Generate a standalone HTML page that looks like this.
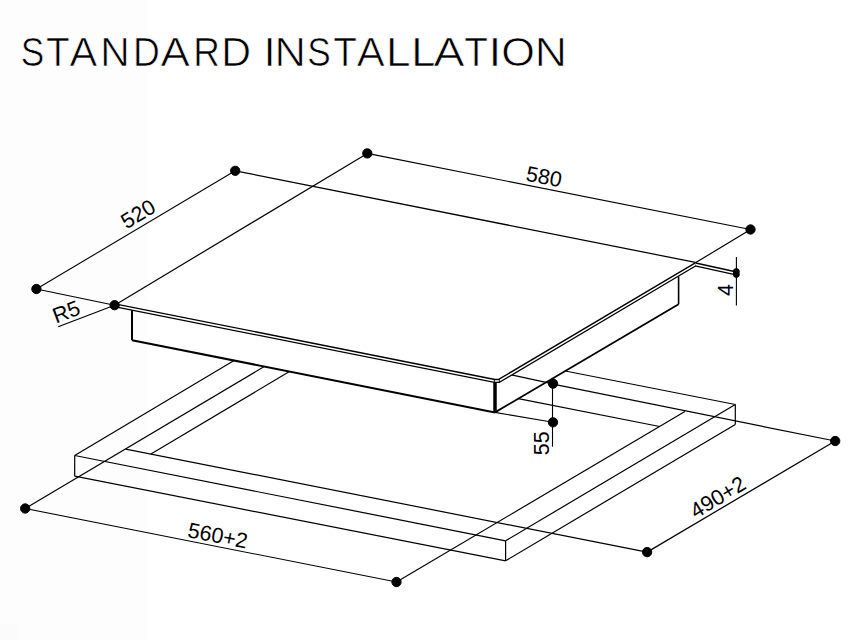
<!DOCTYPE html>
<html><head><meta charset="utf-8"><style>
html,body{margin:0;padding:0;background:#fff;width:863px;height:640px;overflow:hidden}
svg{position:absolute;left:0;top:0}
text{font-family:"Liberation Sans",sans-serif;fill:#000}
</style></head><body>
<svg width="863" height="640" viewBox="0 0 863 640" stroke="#000" fill="#000">
<rect x="0" y="0" width="147" height="640" fill="#fdfdfd" stroke="none"/><rect x="0" y="624" width="17" height="16" fill="#fbfbfb" stroke="none"/>
<g stroke-linecap="butt">
<line x1="114.60" y1="305.20" x2="367.30" y2="153.40" stroke-width="1.2"/>
<line x1="367.30" y1="153.40" x2="750.50" y2="229.50" stroke-width="1.1"/>
<line x1="132.00" y1="309.50" x2="132.00" y2="340.20" stroke-width="2.0"/>
<line x1="132.00" y1="340.20" x2="495.00" y2="412.40" stroke-width="2.0"/>
<line x1="495.00" y1="412.40" x2="678.60" y2="304.20" stroke-width="1.8"/>
<line x1="678.60" y1="276.30" x2="678.60" y2="304.20" stroke-width="1.6"/>
<line x1="495.00" y1="382.50" x2="495.00" y2="412.40" stroke-width="3.5"/>
<line x1="74.70" y1="455.50" x2="234.09" y2="360.51" stroke-width="1.2"/>
<line x1="74.70" y1="455.50" x2="505.60" y2="540.80" stroke-width="1.2"/>
<line x1="74.70" y1="476.20" x2="505.60" y2="560.80" stroke-width="1.2"/>
<line x1="74.70" y1="455.50" x2="74.70" y2="476.20" stroke-width="1.2"/>
<line x1="505.60" y1="540.80" x2="505.60" y2="560.80" stroke-width="1.2"/>
<line x1="505.60" y1="540.80" x2="735.30" y2="404.50" stroke-width="1.2"/>
<line x1="505.60" y1="560.80" x2="735.30" y2="424.50" stroke-width="1.2"/>
<line x1="735.30" y1="404.50" x2="735.30" y2="424.50" stroke-width="1.2"/>
<line x1="735.30" y1="404.50" x2="565.25" y2="371.00" stroke-width="1.2"/>
<line x1="25.20" y1="508.50" x2="264.28" y2="366.51" stroke-width="1.2"/>
<line x1="125.70" y1="449.10" x2="647.10" y2="552.10" stroke-width="1.2"/>
<line x1="396.50" y1="582.00" x2="684.90" y2="411.50" stroke-width="1.2"/>
<line x1="510.30" y1="374.70" x2="553.00" y2="383.90" stroke-width="1.2"/>
<line x1="553.00" y1="384.20" x2="835.20" y2="441.00" stroke-width="1.2"/>
<line x1="150.92" y1="454.07" x2="289.44" y2="371.51" stroke-width="1.2"/>
<line x1="659.68" y1="426.53" x2="518.29" y2="398.68" stroke-width="1.2"/>
<line x1="36.40" y1="289.00" x2="235.20" y2="170.80" stroke-width="1.1"/>
<line x1="36.40" y1="289.00" x2="114.60" y2="305.20" stroke-width="1.1"/>
<line x1="235.20" y1="170.80" x2="695.40" y2="262.40" stroke-width="1.25"/>
<line x1="750.50" y1="229.50" x2="695.00" y2="263.10" stroke-width="1.2"/>
<path d="M114.60,305.20 L494.6,380.9 L498.9,380.9 L695.6,264.3" fill="none" stroke="#000" stroke-width="4.2" stroke-linejoin="miter"/>
<path d="M114.60,305.20 L494.6,380.9 L498.9,380.9 L695.6,264.3" fill="none" stroke="#fff" stroke-width="1.5" stroke-linejoin="miter"/>
<line x1="494.30" y1="378.90" x2="494.30" y2="382.90" stroke-width="0.9"/>
<line x1="499.30" y1="378.90" x2="499.30" y2="382.90" stroke-width="0.9"/>
<line x1="695.40" y1="264.40" x2="736.30" y2="273.40" stroke-width="4.2" stroke="#000"/><line x1="695.40" y1="264.40" x2="736.30" y2="273.40" stroke-width="1.5" stroke="#fff"/>
<line x1="58.20" y1="326.70" x2="114.60" y2="305.20" stroke-width="1.1"/>
<line x1="736.40" y1="257.00" x2="736.40" y2="305.60" stroke-width="1.1"/>
<line x1="552.50" y1="383.60" x2="552.50" y2="446.70" stroke-width="1.1"/>
<line x1="495.00" y1="412.40" x2="553.00" y2="422.30" stroke-width="1.1"/>
<line x1="25.20" y1="508.50" x2="396.50" y2="582.00" stroke-width="1.1"/>
<line x1="835.20" y1="441.00" x2="647.10" y2="552.10" stroke-width="1.25"/>
<circle cx="36.40" cy="289.00" r="4.65"/>
<circle cx="235.20" cy="170.80" r="4.65"/>
<circle cx="114.60" cy="305.20" r="4.65"/>
<circle cx="367.30" cy="153.40" r="4.65"/>
<circle cx="750.50" cy="229.50" r="4.65"/>
<circle cx="553.00" cy="383.60" r="4.65"/>
<circle cx="553.00" cy="422.30" r="4.65"/>
<circle cx="25.20" cy="508.50" r="4.65"/>
<circle cx="396.50" cy="582.00" r="4.65"/>
<circle cx="835.20" cy="441.00" r="4.65"/>
<circle cx="647.10" cy="552.10" r="4.65"/>
<circle cx="736.30" cy="271.60" r="3.0"/>
<circle cx="736.30" cy="274.40" r="3.0"/>
<text stroke="none" x="0" y="0" transform="translate(126.50,229.50) rotate(-31.00)" font-size="21.5">520</text>
<text stroke="none" x="0" y="0" transform="translate(525.00,180.50) rotate(11.10)" font-size="21.5">580</text>
<text stroke="none" x="0" y="0" transform="translate(56.00,323.50) rotate(-20.60)" font-size="21.5">R5</text>
<text stroke="none" x="0" y="0" transform="translate(732.70,296.00) rotate(-90.00)" font-size="21.5">4</text>
<text stroke="none" x="0" y="0" transform="translate(549.40,455.30) rotate(-90.00)" font-size="21.5">55</text>
<text stroke="none" x="0" y="0" transform="translate(186.80,537.00) rotate(11.10)" font-size="21.5">560+2</text>
<text stroke="none" x="0" y="0" transform="translate(695.70,519.00) rotate(-31.00)" font-size="21.5">490+2</text>
<g stroke="#fff" stroke-width="0.7"><text transform="translate(20.80,65.8) scale(0.860,1.0)" font-size="41">S</text>
<text transform="translate(45.93,65.8) scale(0.945,1.0)" font-size="41">T</text>
<text transform="translate(69.42,65.8) scale(1.015,1.0)" font-size="41">A</text>
<text transform="translate(100.15,65.8) scale(0.996,1.0)" font-size="41">N</text>
<text transform="translate(132.95,65.8) scale(0.906,1.0)" font-size="41">D</text>
<text transform="translate(160.41,65.8) scale(1.074,1.0)" font-size="41">A</text>
<text transform="translate(193.17,65.8) scale(0.900,1.0)" font-size="41">R</text>
<text transform="translate(221.22,65.8) scale(1.005,1.0)" font-size="41">D</text>
<text transform="translate(263.54,65.8) scale(1.072,1.0)" font-size="41">I</text>
<text transform="translate(274.53,65.8) scale(1.061,1.0)" font-size="41">N</text>
<text transform="translate(307.30,65.8) scale(0.860,1.0)" font-size="41">S</text>
<text transform="translate(333.23,65.8) scale(0.945,1.0)" font-size="41">T</text>
<text transform="translate(356.72,65.8) scale(1.023,1.0)" font-size="41">A</text>
<text transform="translate(386.07,65.8) scale(1.079,1.0)" font-size="41">L</text>
<text transform="translate(411.29,65.8) scale(1.073,1.0)" font-size="41">L</text>
<text transform="translate(433.41,65.8) scale(1.137,1.0)" font-size="41">A</text>
<text transform="translate(464.33,65.8) scale(0.945,1.0)" font-size="41">T</text>
<text transform="translate(488.45,65.8) scale(1.125,1.0)" font-size="41">I</text>
<text transform="translate(501.15,65.8) scale(1.054,1.0)" font-size="41">O</text>
<text transform="translate(534.84,65.8) scale(1.087,1.0)" font-size="41">N</text></g>
</g></svg>
</body></html>
